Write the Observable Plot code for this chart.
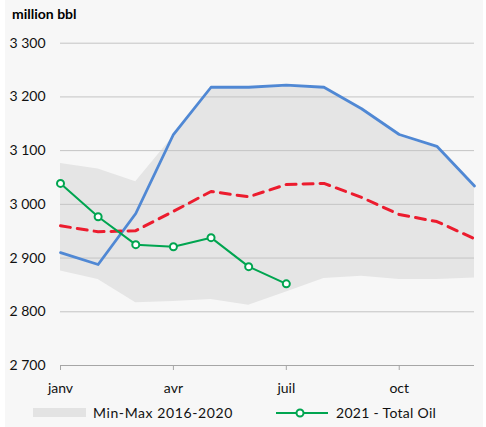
<!DOCTYPE html>
<html><head><meta charset="utf-8">
<script src="https://cdn.jsdelivr.net/npm/d3@7"></script>
<script src="https://cdn.jsdelivr.net/npm/@observablehq/plot@0.6"></script>
<style>
body{margin:0;background:#fff;font-family:Lato,sans-serif;}
#panel{position:absolute;left:5px;top:0;width:478px;height:427px;background:#f7f7f7;}
#wrap{position:absolute;left:0;top:0;width:486px;}
#title{height:28px;line-height:28px;padding-left:12px;font-weight:bold;font-size:14px;color:#000;}
#chart svg{display:block;background:transparent;}
#legend{position:relative;height:27px;font-size:14px;color:#111;}
#legend span{position:absolute;}
</style></head><body>
<div id="panel"></div>
<div id="wrap"><div id="title">million bbl</div><div id="chart"></div>
<div id="legend">
  <span style="left:33px;top:8px;width:53px;height:9px;background:#e3e3e3"></span>
  <span style="left:93px;top:4px;letter-spacing:0.6px">Min-Max 2016-2020</span>
  <svg style="position:absolute;left:274px;top:5px" width="56" height="16"><line x1="2" y1="8" x2="54" y2="8" stroke="#00a550" stroke-width="2"/><circle cx="26" cy="8" r="3.5" fill="#fff" stroke="#00a550" stroke-width="2"/></svg>
  <span style="left:336px;top:4px;letter-spacing:0.3px">2021 - Total Oil</span>
</div></div>
<script>
const months = ["janv","févr","mars","avr","mai","juin","juil","août","sept","oct","nov","déc"];
const rangeMin = [2876,2860,2817,2819,2823,2812,2837,2862,2866,2860,2860,2863];
const rangeMax = [3076,3066,3042,3127,3215,3215,3219,3215,3175,3127,3105,3031];
const year2020 = [2910,2888,2983,3130,3218,3218,3222,3218,3178,3130,3108,3034];
const avg20162020 = [2960,2949,2951,2987,3024,3014,3037,3039,3013,2981,2968,2936];
const oil2021 = [3039,2977,2925,2921,2938,2884,2852];
const yTicks = [2700,2800,2900,3000,3100,3200,3300];
const xTicks = [0,3,6,9];

const band = months.map((m,i)=>({i, lo:rangeMin[i], hi:rangeMax[i]}));
const blue = year2020.map((v,i)=>({i, v}));
const red = avg20162020.map((v,i)=>({i, v}));
const green = oil2021.map((v,i)=>({i, v}));
const fmt = d => d3.format(",")(d).replace(",", "\u00a0");

const chart = Plot.plot({
  width: 486, height: 372,
  marginLeft: 60, marginRight: 12, marginTop: 14.7, marginBottom: 35,
  style: {fontFamily: "Lato, sans-serif", fontSize: "14px", color: "#111", background: "transparent"},
  x: {domain: [0, 11], axis: null},
  y: {domain: [2700, 3300], axis: null},
  marks: [
    Plot.areaY(band, {x: "i", y1: "lo", y2: "hi", fill: "#e5e5e5"}),
    Plot.ruleY(yTicks.filter(d => d > 2700), {stroke: "#c4c4c4", strokeWidth: 1}),
    Plot.ruleY([2700], {stroke: "#a6a6a6", strokeWidth: 1}),
    Plot.axisY({ticks: yTicks, tickFormat: fmt, tickSize: 0, tickPadding: 3, textAnchor: "start", dx: -48, fill: "#111", fontSize: 14, label: null}),
    Plot.axisX({ticks: xTicks, tickFormat: i => months[i], tickSize: 5, tickPadding: 13, stroke: "#a6a6a6", fill: "#111", fontSize: 14, label: null}),
    Plot.line(blue, {x: "i", y: "v", stroke: "#5088d4", strokeWidth: 2.8}),
    Plot.line(red, {x: "i", y: "v", stroke: "#ec1c2e", strokeWidth: 3, strokeDasharray: "10,7"}),
    Plot.line(green, {x: "i", y: "v", stroke: "#00a550", strokeWidth: 2}),
    Plot.dot(green, {x: "i", y: "v", r: 3.5, fill: "#fff", stroke: "#00a550", strokeWidth: 2})
  ]
});
document.getElementById("chart").appendChild(chart);
</script>
</body></html>
